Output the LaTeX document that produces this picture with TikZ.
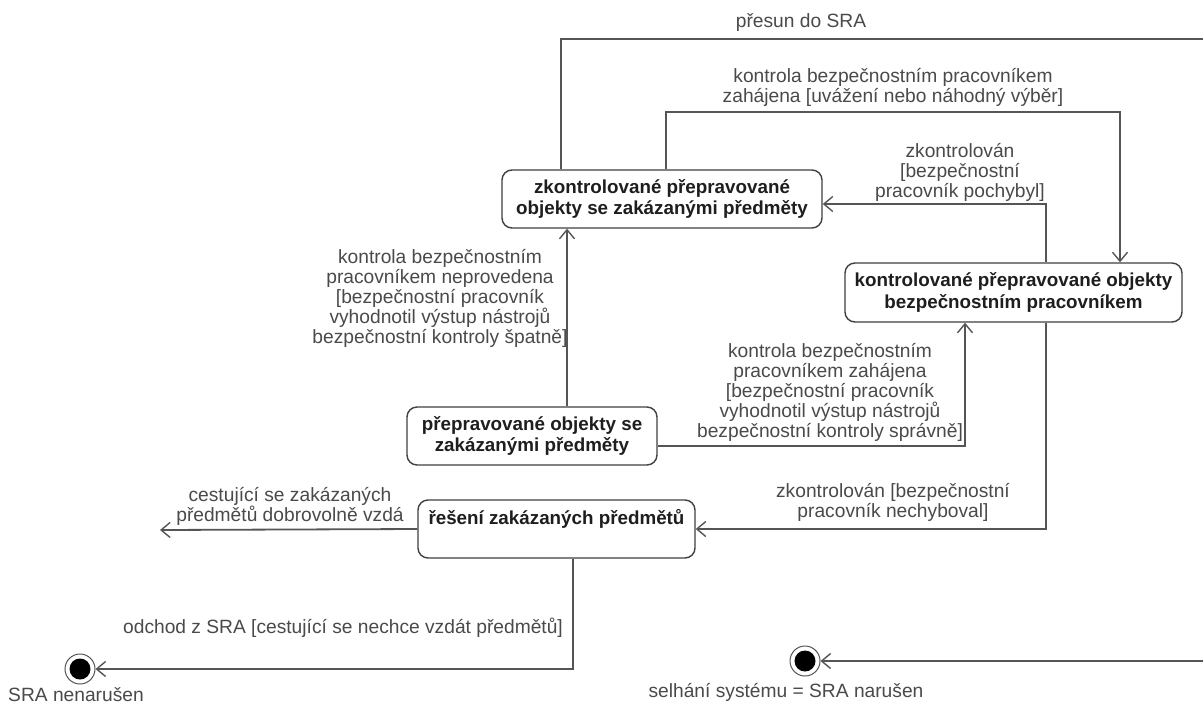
\documentclass[tikz,border=0pt]{standalone}
\usepackage{fontspec}
\setmainfont{Liberation Sans}
\usetikzlibrary{arrows.meta}
\definecolor{linegrey}{HTML}{555555}
\definecolor{labelgrey}{HTML}{4A4A4A}
\definecolor{boxtext}{HTML}{1E1E1E}
\begin{document}
\begin{tikzpicture}[x=1pt,y=-1pt,
  state/.style={draw=boxtext!85, line width=1.4pt, rounded corners=10pt, fill=white,
    font=\fontsize{18.8}{21.5}\selectfont\bfseries, text=boxtext, align=center, inner sep=0pt},
  flow/.style={draw=linegrey, line width=1.8pt,
    -{Straight Barb[length=9pt,width=15pt,line width=1.4pt]}},
  lab/.style={font=\fontsize{19.2}{20}\selectfont, text=labelgrey, align=center, inner sep=0pt},
  final/.style={circle, draw=linegrey, line width=1pt, minimum size=30pt, inner sep=0pt, fill=white,
    path picture={\fill[black] (path picture bounding box.center) circle (10.5pt);}}
]
\useasboundingbox (0,0) rectangle (1203,705);
\fill[white] (0,0) rectangle (1203,705);

% states
\node[state, minimum width=320pt, minimum height=58pt] (A) at (662,199)
  {zkontrolované přepravované\\objekty se zakázanými předměty};
\node[state, minimum width=337pt, minimum height=59pt] (B) at (1013.5,292.5)
  {kontrolované přepravované objekty\\bezpečnostním pracovníkem};
\node[state, minimum width=250pt, minimum height=58pt] (C) at (532,436)
  {přepravované objekty se\\zakázanými předměty};
\node[state, minimum width=277pt, minimum height=58pt, text height=13pt, text depth=22pt] (D) at (556.5,529)
  {řešení zakázaných předmětů};

% final states
\node[final] (f1) at (80,669) {};
\node[final] (f2) at (805,661) {};
\node[lab] (f1lab) at (76,695) {SRA nenarušen};
\node[lab] (f2lab) at (786,692) {selhání systému = SRA narušen};

% bend points and free ends
\coordinate (topright) at (1210,39);
\coordinate (loop) at (1120,112);
\coordinate (giveup) at (160,530);
\coordinate (cup) at ([xshift=35pt]C.north);

% transitions
\draw[flow] ([xshift=-101pt]A.north) |- (topright) |- (f2.east);
\draw[flow] ([xshift=4pt]A.north) |- (loop) -- (loop |- B.north);
\draw[flow] ([xshift=32.5pt]B.north) |- ([yshift=-5pt]A.east);
\draw[flow] ([xshift=32.5pt]B.south) |- (D.east);
\draw[flow] (cup) -- (cup |- A.south);
\draw[flow] ([yshift=-10pt]C.east) -| ([xshift=-48.5pt]B.south);
\draw[flow] (D.west) -- (giveup);
\draw[flow] ([xshift=16.5pt]D.south) |- (f1.east);

% transition labels
\node[lab] (l1) at (801,22) {přesun do SRA};
\node[lab] (l2) at (893,87) {kontrola bezpečnostním pracovníkem\\zahájena [uvážení nebo náhodný výběr]};
\node[lab] (l3) at (960,172) {zkontrolován\\{}[bezpečnostní\\pracovník pochybyl]};
\node[lab] (l4) at (440,298) {kontrola bezpečnostním\\pracovníkem neprovedena\\{}[bezpečnostní pracovník\\vyhodnotil výstup nástrojů\\bezpečnostní kontroly špatně]};
\node[lab] (l5) at (830,392) {kontrola bezpečnostním\\pracovníkem zahájena\\{}[bezpečnostní pracovník\\vyhodnotil výstup nástrojů\\bezpečnostní kontroly správně]};
\node[lab] (l6) at (893,502) {zkontrolován [bezpečnostní\\pracovník nechyboval]};
\node[lab] (l7) at (290,506) {cestující se zakázaných\\předmětů dobrovolně vzdá};
\node[lab] (l8) at (343,628) {odchod z SRA [cestující se nechce vzdát předmětů]};
\end{tikzpicture}
\end{document}
